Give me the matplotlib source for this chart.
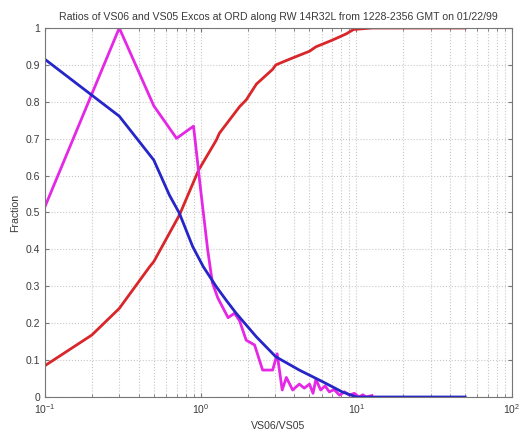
import numpy as np
import matplotlib
matplotlib.use("Agg")
import matplotlib.pyplot as plt
from matplotlib.ticker import LogLocator, FixedLocator

# ratio values (VS06/VS05) and fractions for each curve
redRatio = [0.1, 0.2, 0.3, 0.47, 0.5, 0.73, 0.97, 1.26, 1.32, 1.78, 1.96, 2.28, 2.9, 3.04,
            3.7, 5.0, 5.5, 7.0, 8.6, 9.6, 12.6, 50]
redFrac = [0.085, 0.168, 0.24, 0.353, 0.367, 0.493, 0.615, 0.696, 0.715, 0.787, 0.805, 0.848,
           0.888, 0.9, 0.915, 0.937, 0.949, 0.967, 0.984, 0.996, 1.0, 1.0]

blueRatio = [0.1, 0.3, 0.5, 0.63, 0.73, 0.89, 1.04, 1.26, 1.46, 1.69, 2.28, 3.04, 4.3, 6.1,
             8.1, 10.0, 50]
blueFrac = [0.915, 0.761, 0.642, 0.547, 0.498, 0.407, 0.353, 0.299, 0.262, 0.227, 0.163,
            0.109, 0.073, 0.041, 0.014, 0.0, 0.0]

magentaRatio = [0.1, 0.3, 0.5, 0.7, 0.9, 1.0, 1.11, 1.19, 1.29, 1.5, 1.65, 1.78, 1.96, 2.22,
                2.5, 2.9, 3.1, 3.34, 3.55, 3.9, 4.3, 4.63, 5.0, 5.27, 5.5, 5.9, 6.3, 6.7,
                7.2, 7.8, 8.4, 9.0, 9.7, 10.4, 11.0, 11.6, 12.6]
magentaFrac = [0.516, 1.0, 0.789, 0.701, 0.734, 0.561, 0.398, 0.309, 0.268, 0.215, 0.227,
               0.206, 0.154, 0.141, 0.073, 0.073, 0.117, 0.019, 0.053, 0.019, 0.035, 0.024,
               0.035, 0.01, 0.048, 0.019, 0.03, 0.014, 0.02, 0.005, 0.014, 0.005, 0.01, 0.0,
               0.006, 0.0, 0.004]

yTicks = [0, 0.1, 0.2, 0.3, 0.4, 0.5, 0.6, 0.7, 0.8, 0.9, 1]
yTickLabels = ["0", "0.1", "0.2", "0.3", "0.4", "0.5", "0.6", "0.7", "0.8", "0.9", "1"]

plt.rcParams["font.family"] = ["Liberation Sans", "DejaVu Sans"]
textColor = "#3a3a3a"

fig = plt.figure(figsize=(5.23, 4.3), dpi=100)
ax = fig.add_axes([45 / 523, 33 / 430, 467 / 523, 369 / 430])

ax.plot(redRatio, redFrac, color="#d8262a", linewidth=2)
ax.plot(magentaRatio, magentaFrac, color="#e528e5", linewidth=2)
ax.plot(blueRatio, blueFrac, color="#2525c8", linewidth=2)

ax.set_xscale("log")
ax.set_xlim(0.1, 100)
ax.set_ylim(0, 1)
ax.set_yticks(yTicks)
ax.set_yticklabels(yTickLabels)
ax.xaxis.set_major_locator(FixedLocator([0.1, 1, 10, 100]))
ax.xaxis.set_minor_locator(LogLocator(base=10, subs=np.arange(2, 10)))

ax.grid(True, which="major", color="#c8c8c8", linestyle=":", linewidth=0.8)
ax.grid(True, which="minor", axis="x", color="#c8c8c8", linestyle=":", linewidth=0.8)

ax.tick_params(which="both", direction="in", top=True, right=True, colors="#777777",
               labelcolor=textColor, labelsize=7.5, length=3)
ax.tick_params(which="minor", length=2)
for spine in ax.spines.values():
    spine.set_color("#777777")
    spine.set_linewidth(0.8)

ax.set_title("Ratios of VS06 and VS05 Excos at ORD along RW 14R32L from 1228-2356 GMT on 01/22/99",
             fontsize=7.6, color=textColor, pad=6)
ax.set_xlabel("VS06/VS05", fontsize=7.6, color=textColor, labelpad=4)
ax.set_ylabel("Fraction", fontsize=7.6, color=textColor, labelpad=4)

fig.savefig("out.png", dpi=100)
